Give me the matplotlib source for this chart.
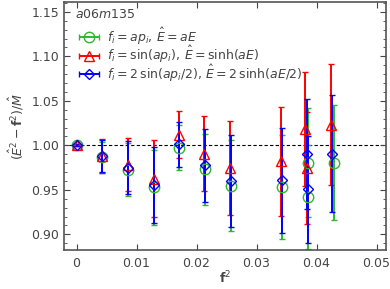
import numpy as np
import matplotlib
matplotlib.use("Agg")
import matplotlib.pyplot as plt
from matplotlib.ticker import MultipleLocator, FormatStrFormatter, FuncFormatter
from matplotlib.legend_handler import HandlerErrorbar
from matplotlib.container import ErrorbarContainer

# f^2 for each momentum, per definition of f_i
x_ap = [0, 0.00428, 0.00857, 0.01285, 0.01714, 0.02142, 0.02570, 0.03427, 0.03855, 0.03855, 0.04284]
x_sin = [0, 0.00428, 0.00856, 0.01283, 0.01704, 0.02132, 0.02559, 0.03407, 0.03806, 0.03835, 0.04234]
x_2sin = [0, 0.00428, 0.00856, 0.01285, 0.01711, 0.02139, 0.02568, 0.03422, 0.03843, 0.03850, 0.04250]

y_ap = [1.000, 0.9866, 0.9728, 0.9530, 0.9974, 0.9731, 0.9545, 0.9533, 0.9806, 0.9420, 0.9806]
e_ap = [0.001, 0.0175, 0.030, 0.042, 0.025, 0.040, 0.051, 0.058, 0.061, 0.058, 0.065]

y_sin = [1.000, 0.9880, 0.9784, 0.9627, 1.0120, 0.9907, 0.9746, 0.9821, 1.0187, 0.9746, 1.0232]
e_sin = [0.001, 0.019, 0.030, 0.043, 0.026, 0.042, 0.053, 0.061, 0.064, 0.063, 0.068]

y_2sin = [1.000, 0.9877, 0.9750, 0.9552, 1.0010, 0.9776, 0.9600, 0.9608, 0.9899, 0.9507, 0.9907]
e_2sin = [0.001, 0.018, 0.030, 0.043, 0.025, 0.041, 0.052, 0.059, 0.062, 0.060, 0.066]

labels = [r"$f_i = ap_i,\, \hat{E} = aE$",
          r"$f_i = \sin(ap_i),\, \hat{E} = \sinh(aE)$",
          r"$f_i = 2\,\sin(ap_i/2),\, \hat{E} = 2\,\sinh(aE/2)$"]

GRAY = "#444444"
plt.rcParams.update({"font.size": 9, "text.color": GRAY, "axes.labelcolor": GRAY,
                     "xtick.color": GRAY, "ytick.color": GRAY, "axes.edgecolor": "#555555"})

fig = plt.figure(figsize=(3.9, 2.89), dpi=100)
ax = fig.add_axes([0.164, 0.135, 0.826, 0.858])

series = [(x_ap, y_ap, e_ap, "#2db92d", "o", 7.5),
          (x_sin, y_sin, e_sin, "red", "^", 7.5),
          (x_2sin, y_2sin, e_2sin, "blue", "D", 5.5)]
handles = []
for (xs, ys, es, c, m, ms), lab in zip(series, labels):
    kw = dict(fmt=m, color=c, mfc="none", mec=c, ms=ms, mew=1.0,
              elinewidth=1.4, capsize=2, capthick=1.0)
    ax.errorbar(xs, ys, yerr=es, **kw)
    # legend handle drawn as a horizontal bar with caps
    handles.append(ax.errorbar([np.nan], [np.nan], xerr=[0.001], **kw))

ax.axhline(1.0, color="black", lw=0.8, ls=(0, (3, 2)), zorder=0)

ax.set_xlim(-0.0021, 0.0516)
ax.set_ylim(0.8824, 1.161)
ax.xaxis.set_major_locator(MultipleLocator(0.01))
ax.xaxis.set_major_formatter(FuncFormatter(lambda v, p: f"{v:g}"))
ax.yaxis.set_major_locator(MultipleLocator(0.05))
ax.yaxis.set_minor_locator(MultipleLocator(0.01))
ax.yaxis.set_major_formatter(FormatStrFormatter("%.2f"))
ax.tick_params(axis="both", which="both", direction="in", top=True, right=True, labelsize=9)
ax.tick_params(axis="both", which="major", length=4)
ax.tick_params(axis="x", which="major", pad=5)
ax.tick_params(axis="y", which="minor", length=2)
for s in ax.spines.values():
    s.set_linewidth(1.2)

ax.set_xlabel(r"$\mathbf{f}^2$", labelpad=0)
ax.set_ylabel(r"$(\hat{E}^2 - \mathbf{f}^2)/\hat{M}$")

ax.text(0.035, 0.95, r"$a06m135$", transform=ax.transAxes, fontsize=9, va="center")
ax.legend(handles, labels, loc="upper left", bbox_to_anchor=(0.045, 0.905), frameon=False,
          fontsize=9, handlelength=1.7, handletextpad=0.6, labelspacing=-0.2,
          borderaxespad=0.0, borderpad=0.0,
          handler_map={ErrorbarContainer: HandlerErrorbar(xerr_size=0.8)})

fig.savefig("out.png", dpi=100)
